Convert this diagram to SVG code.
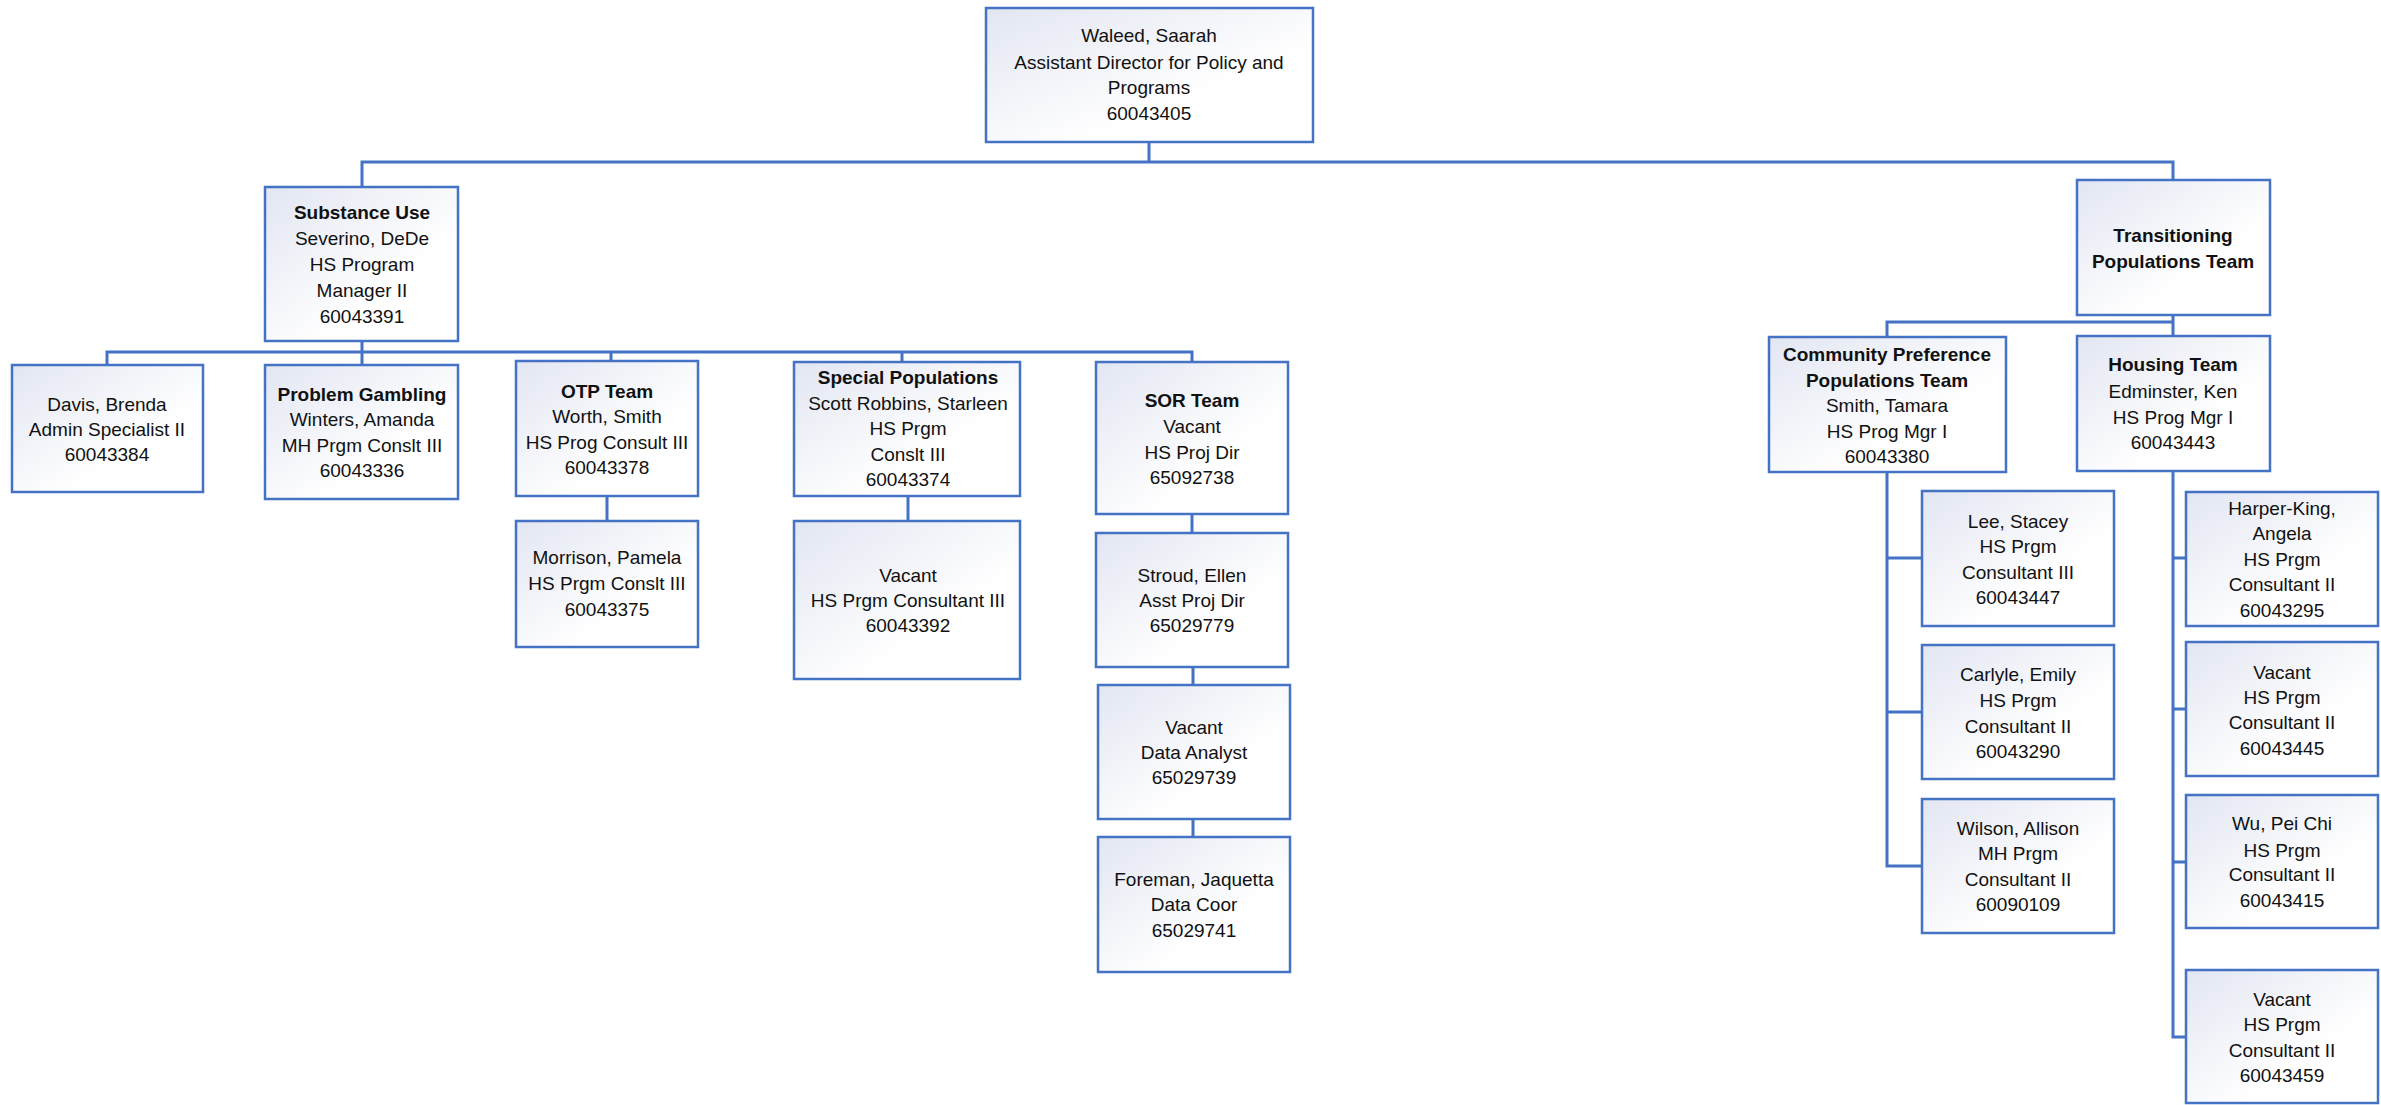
<svg xmlns="http://www.w3.org/2000/svg" width="2381" height="1105" viewBox="0 0 2381 1105">
<defs>
<linearGradient id="g" x1="0" y1="0" x2="1" y2="1">
<stop offset="0" stop-color="#e2e6f2"/>
<stop offset="0.65" stop-color="#ffffff"/>
<stop offset="1" stop-color="#ffffff"/>
</linearGradient>
</defs>
<style>
.box{fill:url(#g);stroke:#4472c4;stroke-width:2.5}
.t{font-family:"Liberation Sans",Arial,sans-serif;font-size:19px;text-anchor:middle;fill:#111}
.b{font-weight:bold}
.c{stroke:#4472c4;stroke-width:3;fill:none}
</style>
<rect width="2381" height="1105" fill="#ffffff"/>
<g id="connectors">
<path class="c" d="M1149,142 V162 M362,187 V162 H2173 V180"/>
<path class="c" d="M362,341 V365 M107,365 V352 H1192 V362 M611,352 V365 M902,352 V362"/>
<path class="c" d="M607,496 V521 M908,496 V521 M1192,514 V533 M1193,667 V685 M1193,819 V837"/>
<path class="c" d="M2173,315 V336 M1887,337 V322 H2173"/>
<path class="c" d="M1887,472 V866 H1922 M1887,558 H1922 M1887,712 H1922"/>
<path class="c" d="M2173,471 V1037 H2186 M2173,558 H2186 M2173,709 H2186 M2173,862 H2186"/>
</g>
<g id="n-waleed"><rect class="box" x="986" y="8" width="327" height="134"/>
<text class="t" x="1149"><tspan x="1149" y="42">Waleed, Saarah</tspan><tspan x="1149" y="69">Assistant Director for Policy and</tspan><tspan x="1149" y="94">Programs</tspan><tspan x="1149" y="120">60043405</tspan></text></g>
<g id="n-substance"><rect class="box" x="265" y="187" width="193" height="154"/>
<text class="t" x="362"><tspan class="b" x="362" y="219">Substance Use</tspan><tspan x="362" y="245">Severino, DeDe</tspan><tspan x="362" y="271">HS Program</tspan><tspan x="362" y="297">Manager II</tspan><tspan x="362" y="323">60043391</tspan></text></g>
<g id="n-davis"><rect class="box" x="12" y="365" width="191" height="127"/>
<text class="t" x="107"><tspan x="107" y="411">Davis, Brenda</tspan><tspan x="107" y="436">Admin Specialist II</tspan><tspan x="107" y="461">60043384</tspan></text></g>
<g id="n-gambling"><rect class="box" x="265" y="365" width="193" height="134"/>
<text class="t" x="362"><tspan class="b" x="362" y="401">Problem Gambling</tspan><tspan x="362" y="426">Winters, Amanda</tspan><tspan x="362" y="452">MH Prgm Conslt III</tspan><tspan x="362" y="477">60043336</tspan></text></g>
<g id="n-otp"><rect class="box" x="516" y="361" width="182" height="135"/>
<text class="t" x="607"><tspan class="b" x="607" y="398">OTP Team</tspan><tspan x="607" y="423">Worth, Smith</tspan><tspan x="607" y="449">HS Prog Consult III</tspan><tspan x="607" y="474">60043378</tspan></text></g>
<g id="n-morrison"><rect class="box" x="516" y="521" width="182" height="126"/>
<text class="t" x="607"><tspan x="607" y="564">Morrison, Pamela</tspan><tspan x="607" y="590">HS Prgm Conslt III</tspan><tspan x="607" y="616">60043375</tspan></text></g>
<g id="n-special"><rect class="box" x="794" y="362" width="226" height="134"/>
<text class="t" x="908"><tspan class="b" x="908" y="384">Special Populations</tspan><tspan x="908" y="410">Scott Robbins, Starleen</tspan><tspan x="908" y="435">HS Prgm</tspan><tspan x="908" y="461">Conslt III</tspan><tspan x="908" y="486">60043374</tspan></text></g>
<g id="n-vacant-sp"><rect class="box" x="794" y="521" width="226" height="158"/>
<text class="t" x="908"><tspan x="908" y="582">Vacant</tspan><tspan x="908" y="607">HS Prgm Consultant III</tspan><tspan x="908" y="632">60043392</tspan></text></g>
<g id="n-sor"><rect class="box" x="1096" y="362" width="192" height="152"/>
<text class="t" x="1192"><tspan class="b" x="1192" y="407">SOR Team</tspan><tspan x="1192" y="433">Vacant</tspan><tspan x="1192" y="459">HS Proj Dir</tspan><tspan x="1192" y="484">65092738</tspan></text></g>
<g id="n-stroud"><rect class="box" x="1096" y="533" width="192" height="134"/>
<text class="t" x="1192"><tspan x="1192" y="582">Stroud, Ellen</tspan><tspan x="1192" y="607">Asst Proj Dir</tspan><tspan x="1192" y="632">65029779</tspan></text></g>
<g id="n-analyst"><rect class="box" x="1098" y="685" width="192" height="134"/>
<text class="t" x="1194"><tspan x="1194" y="734">Vacant</tspan><tspan x="1194" y="759">Data Analyst</tspan><tspan x="1194" y="784">65029739</tspan></text></g>
<g id="n-foreman"><rect class="box" x="1098" y="837" width="192" height="135"/>
<text class="t" x="1194"><tspan x="1194" y="886">Foreman, Jaquetta</tspan><tspan x="1194" y="911">Data Coor</tspan><tspan x="1194" y="937">65029741</tspan></text></g>
<g id="n-transitioning"><rect class="box" x="2077" y="180" width="193" height="135"/>
<text class="t b" x="2173"><tspan x="2173" y="242">Transitioning</tspan><tspan x="2173" y="268">Populations Team</tspan></text></g>
<g id="n-community"><rect class="box" x="1769" y="337" width="237" height="135"/>
<text class="t" x="1887"><tspan class="b" x="1887" y="361">Community Preference</tspan><tspan class="b" x="1887" y="387">Populations Team</tspan><tspan x="1887" y="412">Smith, Tamara</tspan><tspan x="1887" y="438">HS Prog Mgr I</tspan><tspan x="1887" y="463">60043380</tspan></text></g>
<g id="n-housing"><rect class="box" x="2077" y="336" width="193" height="135"/>
<text class="t" x="2173"><tspan class="b" x="2173" y="371">Housing Team</tspan><tspan x="2173" y="398">Edminster, Ken</tspan><tspan x="2173" y="424">HS Prog Mgr I</tspan><tspan x="2173" y="449">60043443</tspan></text></g>
<g id="n-lee"><rect class="box" x="1922" y="491" width="192" height="135"/>
<text class="t" x="2018"><tspan x="2018" y="528">Lee, Stacey</tspan><tspan x="2018" y="553">HS Prgm</tspan><tspan x="2018" y="579">Consultant III</tspan><tspan x="2018" y="604">60043447</tspan></text></g>
<g id="n-carlyle"><rect class="box" x="1922" y="645" width="192" height="134"/>
<text class="t" x="2018"><tspan x="2018" y="681">Carlyle, Emily</tspan><tspan x="2018" y="707">HS Prgm</tspan><tspan x="2018" y="733">Consultant II</tspan><tspan x="2018" y="758">60043290</tspan></text></g>
<g id="n-wilson"><rect class="box" x="1922" y="799" width="192" height="134"/>
<text class="t" x="2018"><tspan x="2018" y="835">Wilson, Allison</tspan><tspan x="2018" y="860">MH Prgm</tspan><tspan x="2018" y="886">Consultant II</tspan><tspan x="2018" y="911">60090109</tspan></text></g>
<g id="n-harper"><rect class="box" x="2186" y="492" width="192" height="134"/>
<text class="t" x="2282"><tspan x="2282" y="515">Harper-King,</tspan><tspan x="2282" y="540">Angela</tspan><tspan x="2282" y="566">HS Prgm</tspan><tspan x="2282" y="591">Consultant II</tspan><tspan x="2282" y="617">60043295</tspan></text></g>
<g id="n-vacant-h1"><rect class="box" x="2186" y="642" width="192" height="134"/>
<text class="t" x="2282"><tspan x="2282" y="679">Vacant</tspan><tspan x="2282" y="704">HS Prgm</tspan><tspan x="2282" y="729">Consultant II</tspan><tspan x="2282" y="755">60043445</tspan></text></g>
<g id="n-wu"><rect class="box" x="2186" y="795" width="192" height="133"/>
<text class="t" x="2282"><tspan x="2282" y="830">Wu, Pei Chi</tspan><tspan x="2282" y="857">HS Prgm</tspan><tspan x="2282" y="881">Consultant II</tspan><tspan x="2282" y="907">60043415</tspan></text></g>
<g id="n-vacant-h2"><rect class="box" x="2186" y="970" width="192" height="133"/>
<text class="t" x="2282"><tspan x="2282" y="1006">Vacant</tspan><tspan x="2282" y="1031">HS Prgm</tspan><tspan x="2282" y="1057">Consultant II</tspan><tspan x="2282" y="1082">60043459</tspan></text></g>
</svg>
